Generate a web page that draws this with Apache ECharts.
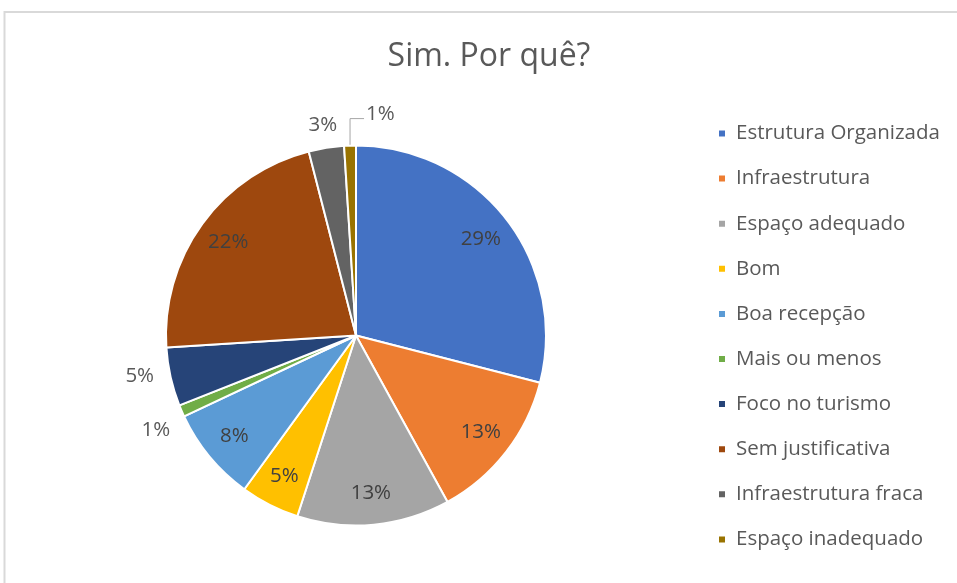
<!DOCTYPE html>
<html>
<head>
<meta charset="utf-8">
<script src="https://cdn.jsdelivr.net/npm/echarts@6/dist/echarts.min.js"></script>
<style>
html,body{margin:0;padding:0;background:#fff;}
#chart{width:957px;height:583px;}
</style>
</head>
<body>
<div id="chart"></div>
<script>
const categories = ["Estrutura Organizada","Infraestrutura","Espaço adequado","Bom","Boa recepção","Mais ou menos","Foco no turismo","Sem justificativa","Infraestrutura fraca","Espaço inadequado"];
const values = [29, 13, 13, 5, 8, 1, 5, 22, 3, 1];
const colors = ["#4472C4","#ED7D31","#A5A5A5","#FFC000","#5B9BD5","#70AD47","#264478","#9E480E","#636363","#997300"];
const insideIdx = [0,1,2,3,4,7];

const CX = 356, CY = 335.5, R = 190;
const FONT = "'Open Sans', Lato, sans-serif";

const chart = echarts.init(document.getElementById('chart'), null, {renderer:'canvas'});

const mainData = categories.map((name,i)=>{
  const inside = insideIdx.indexOf(i) >= 0;
  return {
    name, value: values[i],
    itemStyle:{color:colors[i]},
    label:{show: !inside},
    labelLine:{show: i === 9}
  };
});
const labelData = categories.map((name,i)=>{
  const inside = insideIdx.indexOf(i) >= 0;
  return {name, value: values[i], label:{show: inside}};
});

const outsideShift = {5:[12,11], 6:[8,-5], 8:[19,-3]};

chart.setOption({
  animation:false,
  backgroundColor:'#ffffff',
  color: colors,
  title:{
    text:'Sim. Por quê?',
    left: 484, top: 36, textAlign:'center',
    textStyle:{fontFamily:FONT, fontSize:32, fontWeight:'normal', color:'#595959'}
  },
  legend:{
    orient:'vertical', left:712, top:117.5,
    icon:'rect', itemWidth:8, itemHeight:8, itemGap:23.1,
    selectedMode:false,
    data: categories,
    textStyle:{fontFamily:FONT, fontSize:20.5, color:'#595959', lineHeight:22, padding:[0,0,0,5]}
  },
  graphic:[{
    type:'rect', silent:true,
    shape:{x:4.5, y:12, width:1000, height:600},
    style:{fill:'none', stroke:'#d9d9d9', lineWidth:2}
  }],
  series:[
    {
      type:'pie', center:[CX,CY], radius:[0,R],
      startAngle:90, clockwise:true,
      avoidLabelOverlap:false,
      itemStyle:{borderColor:'#ffffff', borderWidth:2},
      label:{
        position:'outside', formatter:'{d}%',
        fontFamily:FONT, fontSize:20.5, color:'#595959',
        distanceToLabelLine:5
      },
      labelLine:{length:20, length2:0, lineStyle:{color:'#a6a6a6', width:1}},
      labelLayout:function(p){
        if (p.dataIndex === 9 && p.labelLinePoints) {
          const p0 = p.labelLinePoints[0];
          const yTop = p0[1] - 27;
          return {
            x: p0[0] + 16, y: yTop - 4, align:'left', verticalAlign:'middle',
            labelLinePoints:[[p0[0],p0[1]],[p0[0],yTop],[p0[0]+14,yTop]]
          };
        }
        const s = outsideShift[p.dataIndex];
        if (s) return {dx:s[0], dy:s[1]};
        return {};
      },
      emphasis:{disabled:true},
      data: mainData
    },
    {
      type:'pie', center:[CX,CY], radius:[120,R],
      startAngle:90, clockwise:true, silent:true,
      avoidLabelOverlap:false,
      itemStyle:{color:'rgba(0,0,0,0)', borderWidth:0},
      label:{position:'inside', formatter:'{d}%', fontFamily:FONT, fontSize:20.5, color:'#404040'},
      labelLine:{show:false},
      emphasis:{disabled:true},
      data: labelData
    }
  ]
});
</script>
</body>
</html>
